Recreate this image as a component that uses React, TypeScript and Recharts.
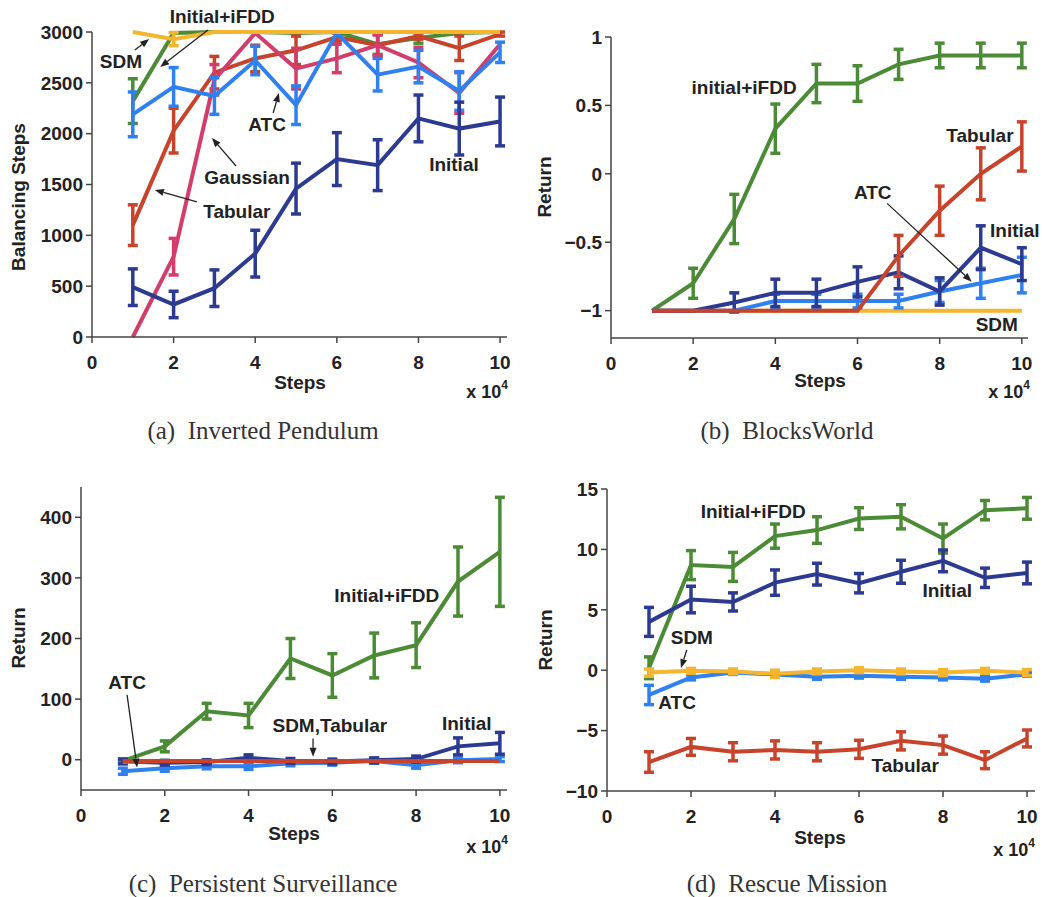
import React from 'react'
import { LineChart, Line, XAxis, YAxis, ErrorBar, ReferenceDot, ReferenceLine } from 'recharts'

const FONT = '"Liberation Sans", Arial, Helvetica, sans-serif'
const SERIF = '"Liberation Serif", "Times New Roman", serif'
const INK = '#222'

const GREEN = '#4B8B35'
const NAVY = '#2C3A92'
const BLUE = '#2F80F0'
const RED = '#C8432B'
const PINK = '#D23D6B'
const GOLD = '#F5B52E'

// x positions (x 10^4 steps)
const steps = [1, 2, 3, 4, 5, 6, 7, 8, 9, 10]
const stepTicks = [0, 2, 4, 6, 8, 10]

// (a) Inverted Pendulum
const pendIfdd = [2320, 2990, 3000, 3000, 2990, 3000, 2880, 2940, 2990, 3000]
const pendIfddErr = [220, 0, 0, 0, 0, 0, 100, 50, 0, 0]
const pendTabular = [1100, 2030, 2600, 2740, 2820, 2950, 2870, 2960, 2840, 2980]
const pendTabularErr = [200, 220, 160, 130, 140, 40, 110, 30, 120, 20]
const pendGaussian = [0, 790, 2530, 2990, 2640, 2740, 2870, 2700, 2400, 2880]
const pendGaussianErr = [0, 180, 150, 0, 200, 140, 100, 150, 200, 0]
const pendAtc = [2190, 2460, 2370, 2720, 2280, 2990, 2580, 2660, 2420, 2800]
const pendAtcErr = [220, 190, 180, 140, 190, 0, 160, 160, 190, 100]
const pendInitial = [490, 320, 480, 820, 1460, 1750, 1690, 2150, 2050, 2120]
const pendInitialErr = [180, 130, 180, 230, 250, 260, 250, 230, 260, 240]
const pendSdm = [3000, 2930, 3000, 3000, 3000, 3000, 3000, 3000, 3000, 3000]
const pendSdmErr = [0, 65, 0, 0, 0, 0, 0, 0, 0, 0]
const pendTicks = [0, 500, 1000, 1500, 2000, 2500, 3000]

// (b) BlocksWorld
const blocksSdm = [-1, -1, -1, -1, -1, -1, -1, -1, -1, -1]
const blocksIfdd = [-1, -0.8, -0.33, 0.33, 0.66, 0.66, 0.8, 0.865, 0.865, 0.865]
const blocksIfddErr = [0, 0.11, 0.18, 0.18, 0.14, 0.13, 0.11, 0.09, 0.09, 0.09]
const blocksAtc = [-1, -1, -1, -0.93, -0.93, -0.93, -0.93, -0.86, -0.8, -0.74]
const blocksAtcErr = [0, 0, 0, 0.05, 0.05, 0.05, 0.05, 0.08, 0.11, 0.13]
const blocksInitial = [-1, -1, -0.94, -0.87, -0.87, -0.79, -0.72, -0.86, -0.54, -0.66]
const blocksInitialErr = [0, 0, 0.07, 0.1, 0.1, 0.11, 0.12, 0.1, 0.16, 0.12]
const blocksTabular = [-1, -1, -1, -1, -1, -1, -0.6, -0.27, 0, 0.2]
const blocksTabularErr = [0, 0, 0, 0, 0, 0, 0.15, 0.18, 0.19, 0.18]
const blocksTicks = [-1, -0.5, 0, 0.5, 1]

// (c) Persistent Surveillance
const survIfdd = [-2, 22, 80, 73, 167, 139, 172, 189, 294, 343]
const survIfddErr = [3, 9, 13, 20, 33, 36, 37, 37, 57, 90]
const survAtc = [-19, -14, -11, -11, -6, -5, -2, -9, -1, 1]
const survAtcErr = [5, 5, 4, 5, 4, 4, 4, 5, 4, 4]
const survInitial = [-3, -5, -4, 3, -2, -3, -1, 1, 22, 27]
const survInitialErr = [4, 4, 4, 5, 4, 4, 4, 5, 14, 18]
const survSdm = [-3, -2, -2, -2, -2, -2, -2, -2, -2, -2]
const survTabular = [-2, -2, -2, -2, -2, -2, -2, -2, -2, -2]
const survTicks = [0, 100, 200, 300, 400]

// (d) Rescue Mission
const rescueIfdd = [0.2, 8.7, 8.55, 11.1, 11.6, 12.55, 12.7, 10.9, 13.25, 13.4]
const rescueIfddErr = [0.9, 1.2, 1.2, 1.0, 1.1, 0.9, 1.0, 1.2, 0.8, 0.9]
const rescueInitial = [4.0, 5.85, 5.65, 7.25, 7.95, 7.2, 8.15, 9.05, 7.65, 8.05]
const rescueInitialErr = [1.2, 1.1, 0.75, 1.05, 0.9, 0.8, 0.95, 0.9, 0.8, 0.9]
const rescueAtc = [-2.05, -0.6, -0.2, -0.35, -0.55, -0.45, -0.55, -0.6, -0.7, -0.35]
const rescueAtcErr = [0.8, 0.2, 0.15, 0.2, 0.2, 0.2, 0.2, 0.2, 0.2, 0.15]
const rescueSdm = [-0.2, -0.05, -0.1, -0.3, -0.1, 0, -0.1, -0.2, -0.05, -0.2]
const rescueSdmErr = [0.3, 0.2, 0.2, 0.3, 0.2, 0.2, 0.2, 0.25, 0.2, 0.25]
const rescueTabular = [-7.6, -6.35, -6.75, -6.6, -6.75, -6.55, -5.85, -6.2, -7.45, -5.65]
const rescueTabularErr = [0.85, 0.7, 0.75, 0.75, 0.75, 0.75, 0.75, 0.75, 0.7, 0.7]
const rescueTicks = [-10, -5, 0, 5, 10, 15]

type Series = { key: string; values: number[]; errors?: number[]; color: string }
type Note = { text: string; x: number; y: number }
type Arrow = { from: [number, number]; to: [number, number] }

interface PanelProps {
  left: number
  top: number
  width: number
  height: number
  margin: { top: number; right: number; bottom: number; left: number }
  xMax: number
  yDomain: [number, number]
  yTicks: number[]
  series: Series[]
  notes: Note[]
  arrows: Arrow[]
}

const fmt = (v: number) => (v < 0 ? '\u2212' + Math.abs(v) : String(v))

function ArrowShape(props: any) {
  const { x1, y1, x2, y2 } = props
  const ang = Math.atan2(y2 - y1, x2 - x1)
  const len = 9
  const half = 3.5
  const bx = x2 - len * Math.cos(ang)
  const by = y2 - len * Math.sin(ang)
  const ax = bx + half * Math.sin(ang)
  const ay = by - half * Math.cos(ang)
  const cx = bx - half * Math.sin(ang)
  const cy = by + half * Math.cos(ang)
  return (
    <g>
      <line x1={x1} y1={y1} x2={bx} y2={by} stroke={INK} strokeWidth={1.3} />
      <polygon points={`${x2},${y2} ${ax},${ay} ${cx},${cy}`} fill={INK} />
    </g>
  )
}

const noteShape = (text: string) => (p: any) => (
  <text x={p.cx} y={p.cy} textAnchor="middle" dominantBaseline="central"
    fontFamily={FONT} fontWeight={700} fontSize={19} fill={INK}>
    {text}
  </text>
)

const axisStroke = { stroke: '#444', strokeWidth: 1.5 }
const tickStyle = { fontSize: 19, fontWeight: 700, fill: INK, fontFamily: FONT }

function Panel({ left, top, width, height, margin, xMax, yDomain, yTicks, series, notes, arrows }: PanelProps) {
  const rows = steps.map((s, i) => {
    const r: Record<string, number> = { x: s }
    series.forEach(se => {
      r[se.key] = se.values[i]
      if (se.errors) r[se.key + 'Err'] = se.errors[i]
    })
    return r
  })

  return (
    <div style={{ position: 'absolute', left, top }}>
      <LineChart width={width} height={height} data={rows} margin={margin}>
        <XAxis type="number" dataKey="x" domain={[0, xMax]} ticks={stepTicks} height={30}
          tick={tickStyle} tickSize={6} tickMargin={13} axisLine={axisStroke} tickLine={axisStroke} />
        <YAxis type="number" domain={yDomain} ticks={yTicks} width={60} tickFormatter={fmt}
          tick={tickStyle} tickSize={6} tickMargin={3} axisLine={axisStroke} tickLine={axisStroke} />
        {series.map(se => (
          <Line key={se.key} type="linear" dataKey={se.key} stroke={se.color} strokeWidth={4}
            dot={false} activeDot={false} isAnimationActive={false}>
            {se.errors && (
              <ErrorBar dataKey={se.key + 'Err'} direction="y" width={5} strokeWidth={3.5}
                stroke={se.color} isAnimationActive={false} />
            )}
          </Line>
        ))}
        {arrows.map((a, i) => (
          <ReferenceLine key={'ar' + i} ifOverflow="visible"
            segment={[{ x: a.from[0], y: a.from[1] }, { x: a.to[0], y: a.to[1] }]}
            shape={ArrowShape} />
        ))}
        {notes.map(n => (
          <ReferenceDot key={n.text} x={n.x} y={n.y} r={0} ifOverflow="visible" shape={noteShape(n.text)} />
        ))}
      </LineChart>
    </div>
  )
}

function Titles() {
  const title = { fontFamily: FONT, fontWeight: 700, fontSize: 19, fill: INK }
  const cap = { fontFamily: SERIF, fontSize: 25, fill: '#333' }
  const xTen = (x: number, y: number) => (
    <text x={x} y={y} textAnchor="end" {...title} fontSize={18}>
      x 10<tspan dy={-9} fontSize={12}>4</tspan>
    </text>
  )
  return (
    <svg width={1042} height={897} style={{ position: 'absolute', left: 0, top: 0, pointerEvents: 'none' }}>
      <text transform="translate(18,197) rotate(-90)" textAnchor="middle" dominantBaseline="central" {...title}>Balancing Steps</text>
      <text transform="translate(544,187) rotate(-90)" textAnchor="middle" dominantBaseline="central" {...title}>Return</text>
      <text transform="translate(18,638) rotate(-90)" textAnchor="middle" dominantBaseline="central" {...title}>Return</text>
      <text transform="translate(545,640) rotate(-90)" textAnchor="middle" dominantBaseline="central" {...title}>Return</text>

      <text x={300} y={382} textAnchor="middle" dominantBaseline="central" {...title}>Steps</text>
      <text x={820} y={380} textAnchor="middle" dominantBaseline="central" {...title}>Steps</text>
      <text x={294} y={833} textAnchor="middle" dominantBaseline="central" {...title}>Steps</text>
      <text x={820} y={837} textAnchor="middle" dominantBaseline="central" {...title}>Steps</text>

      {xTen(508, 398)}
      {xTen(1030, 398)}
      {xTen(508, 853)}
      {xTen(1035, 856)}

      <text x={263} y={430} textAnchor="middle" dominantBaseline="central" {...cap} style={{ whiteSpace: 'pre' }}>(a)  Inverted Pendulum</text>
      <text x={787} y={430} textAnchor="middle" dominantBaseline="central" {...cap} style={{ whiteSpace: 'pre' }}>(b)  BlocksWorld</text>
      <text x={263} y={883} textAnchor="middle" dominantBaseline="central" {...cap} style={{ whiteSpace: 'pre' }}>(c)  Persistent Surveillance</text>
      <text x={787} y={883} textAnchor="middle" dominantBaseline="central" {...cap} style={{ whiteSpace: 'pre' }}>(d)  Rescue Mission</text>
    </svg>
  )
}

export default function App() {
  return (
    <div style={{ position: 'absolute', left: 0, top: 0, width: 1042, height: 897, background: '#fff' }}>
      <Panel left={0} top={0} width={520} height={400}
        margin={{ top: 32, right: 13, bottom: 33, left: 32 }}
        xMax={10.17} yDomain={[0, 3000]} yTicks={pendTicks}
        series={[
          { key: 'ifdd', values: pendIfdd, errors: pendIfddErr, color: GREEN },
          { key: 'tabular', values: pendTabular, errors: pendTabularErr, color: RED },
          { key: 'gaussian', values: pendGaussian, errors: pendGaussianErr, color: PINK },
          { key: 'atc', values: pendAtc, errors: pendAtcErr, color: BLUE },
          { key: 'initial', values: pendInitial, errors: pendInitialErr, color: NAVY },
          { key: 'sdm', values: pendSdm, errors: pendSdmErr, color: GOLD },
        ]}
        notes={[
          { text: 'Initial+iFDD', x: 3.19, y: 3148 },
          { text: 'SDM', x: 0.71, y: 2705 },
          { text: 'ATC', x: 4.29, y: 2095 },
          { text: 'Gaussian', x: 3.8, y: 1564 },
          { text: 'Tabular', x: 3.55, y: 1230 },
          { text: 'Initial', x: 8.87, y: 1692 },
        ]}
        arrows={[
          { from: [1.05, 2823], to: [1.4, 2931] },
          { from: [2.84, 3020], to: [1.67, 2656] },
          { from: [4.44, 2203], to: [4.58, 2400] },
          { from: [3.53, 1682], to: [2.94, 1957] },
          { from: [2.57, 1328], to: [1.54, 1446] },
        ]}
      />
      <Panel left={520} top={0} width={522} height={400}
        margin={{ top: 37, right: 14, bottom: 32, left: 31 }}
        xMax={10.15} yDomain={[-1.2, 1]} yTicks={blocksTicks}
        series={[
          { key: 'sdm', values: blocksSdm, color: GOLD },
          { key: 'ifdd', values: blocksIfdd, errors: blocksIfddErr, color: GREEN },
          { key: 'atc', values: blocksAtc, errors: blocksAtcErr, color: BLUE },
          { key: 'initial', values: blocksInitial, errors: blocksInitialErr, color: NAVY },
          { key: 'tabular', values: blocksTabular, errors: blocksTabularErr, color: RED },
        ]}
        notes={[
          { text: 'initial+iFDD', x: 3.24, y: 0.628 },
          { text: 'Tabular', x: 8.98, y: 0.283 },
          { text: 'ATC', x: 6.37, y: -0.14 },
          { text: 'Initial', x: 9.83, y: -0.413 },
          { text: 'SDM', x: 9.39, y: -1.1 },
        ]}
        arrows={[{ from: [6.72, -0.216], to: [8.78, -0.788] }]}
      />
      <Panel left={0} top={470} width={520} height={380}
        margin={{ top: 17, right: 13, bottom: 30, left: 21 }}
        xMax={10.17} yDomain={[-50, 450]} yTicks={survTicks}
        series={[
          { key: 'ifdd', values: survIfdd, errors: survIfddErr, color: GREEN },
          { key: 'atc', values: survAtc, errors: survAtcErr, color: BLUE },
          { key: 'initial', values: survInitial, errors: survInitialErr, color: NAVY },
          { key: 'sdm', values: survSdm, color: GOLD },
          { key: 'tabular', values: survTabular, color: RED },
        ]}
        notes={[
          { text: 'ATC', x: 1.1, y: 127 },
          { text: 'SDM,Tabular', x: 5.94, y: 56 },
          { text: 'Initial+iFDD', x: 7.3, y: 271 },
          { text: 'Initial', x: 9.21, y: 60 },
        ]}
        arrows={[
          { from: [1.1, 107], to: [1.34, -13] },
          { from: [5.54, 35], to: [5.54, 5] },
        ]}
      />
      <Panel left={520} top={470} width={522} height={380}
        margin={{ top: 19, right: 7, bottom: 29, left: 27 }}
        xMax={10.19} yDomain={[-10, 15]} yTicks={rescueTicks}
        series={[
          { key: 'ifdd', values: rescueIfdd, errors: rescueIfddErr, color: GREEN },
          { key: 'initial', values: rescueInitial, errors: rescueInitialErr, color: NAVY },
          { key: 'atc', values: rescueAtc, errors: rescueAtcErr, color: BLUE },
          { key: 'sdm', values: rescueSdm, errors: rescueSdmErr, color: GOLD },
          { key: 'tabular', values: rescueTabular, errors: rescueTabularErr, color: RED },
        ]}
        notes={[
          { text: 'Initial+iFDD', x: 3.48, y: 13.1 },
          { text: 'Initial', x: 8.1, y: 6.56 },
          { text: 'SDM', x: 2.02, y: 2.67 },
          { text: 'ATC', x: 1.67, y: -2.7 },
          { text: 'Tabular', x: 7.1, y: -7.85 },
        ]}
        arrows={[{ from: [1.9, 1.67], to: [1.76, 0.18] }]}
      />
      <Titles />
    </div>
  )
}
